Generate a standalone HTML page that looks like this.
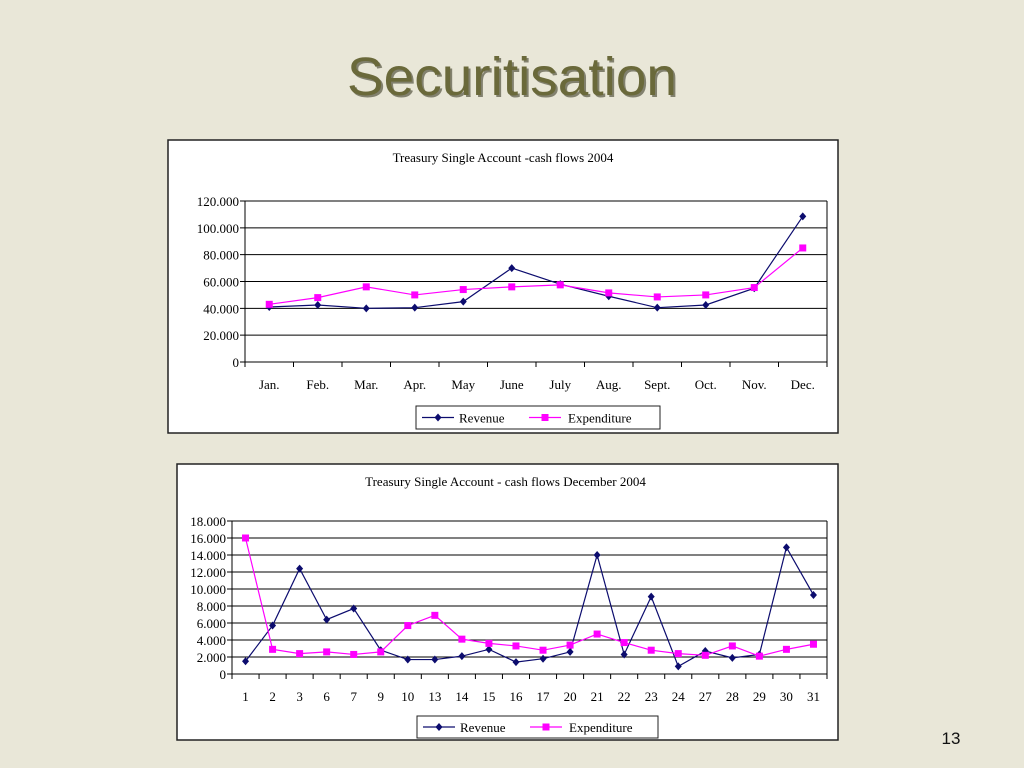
<!DOCTYPE html>
<html><head><meta charset="utf-8"><style>
body{margin:0;width:1024px;height:768px;background:#e8e6d6;font-family:"Liberation Serif",serif;overflow:hidden}
svg{position:absolute;left:0;top:0}
</style></head><body>
<svg id="s" width="1024" height="768" xmlns="http://www.w3.org/2000/svg">
<rect width="1024" height="768" fill="#e9e7d8"/>
<text x="514" y="97" text-anchor="middle" font-family="Liberation Sans,sans-serif" font-size="54" fill="#2f2f18" opacity="0.55" textLength="330" lengthAdjust="spacingAndGlyphs">Securitisation</text>
<text x="512" y="95" text-anchor="middle" font-family="Liberation Sans,sans-serif" font-size="54" fill="#6a693a" textLength="330" lengthAdjust="spacingAndGlyphs">Securitisation</text>
<text x="951" y="744" text-anchor="middle" font-family="Liberation Sans,sans-serif" font-size="17" fill="#111">13</text>
<g id="c1"></g>
<g id="c2"></g>
</svg>
<script>
const months=["Jan.","Feb.","Mar.","Apr.","May","June","July","Aug.","Sept.","Oct.","Nov.","Dec."];
const revenue2004=[41,42.5,40,40.5,45,70,58,49,40.5,42.5,55,108.5];
const expenditure2004=[43,48,56,50,54,56,57.5,51.5,48.5,50,55.5,85];
const ticks1=[0,20,40,60,80,100,120];
const tickLabels1=["0","20.000","40.000","60.000","80.000","100.000","120.000"];
const days=["1","2","3","6","7","9","10","13","14","15","16","17","20","21","22","23","24","27","28","29","30","31"];
const revenueDec=[1500,5700,12400,6400,7700,2800,1700,1700,2100,2900,1400,1800,2600,14000,2300,9100,900,2700,1900,2300,14900,9300];
const expenditureDec=[16000,2900,2400,2600,2300,2600,5700,6900,4100,3600,3300,2800,3400,4700,3700,2800,2400,2200,3300,2100,2900,3500];
const ticks2=[0,2000,4000,6000,8000,10000,12000,14000,16000,18000];
const tickLabels2=["0","2.000","4.000","6.000","8.000","10.000","12.000","14.000","16.000","18.000"];
const NS="http://www.w3.org/2000/svg";
function mk(p,t,a){const e=document.createElementNS(NS,t);for(const k in a)e.setAttribute(k,a[k]);p.appendChild(e);return e;}
function draw(g,o){
  const b=mk(g,'rect',{x:o.bx,y:o.by,width:o.bw,height:o.bh,fill:'#fff',stroke:'#222','stroke-width':1.5});
  
  
  const t=mk(g,'text',{x:o.bx+o.bw/2+o.tdx,y:o.by+22,'text-anchor':'middle','font-size':13});t.textContent=o.title;
  
  
  const X0=o.x0,X1=o.x1,Y0=o.y0,Y1=o.y1,max=o.ticks[o.ticks.length-1];
  const n=o.cats.length,cw=(X1-X0)/n;
  const xs=i=>X0+cw*(i+0.5), ys=v=>Y0-(v/max)*(Y0-Y1);
  o.ticks.forEach((v,i)=>{
    const y=ys(v);
    const l=mk(g,'line',{x1:X0-5,x2:X1,y1:y,y2:y,stroke:'#000','stroke-width':1});
    
    
    const tx=mk(g,'text',{x:X0-6,y:y+5,'text-anchor':'end','font-size':13});tx.textContent=o.tl[i];
    
    
  });
  mk(g,'line',{x1:X0,x2:X0,y1:Y1,y2:Y0,stroke:'#000'});
  mk(g,'line',{x1:X1,x2:X1,y1:Y1,y2:Y0,stroke:'#000'});
  for(let i=0;i<=n;i++)mk(g,'line',{x1:X0+cw*i,x2:X0+cw*i,y1:Y0,y2:Y0+5,stroke:'#000'});
  o.cats.forEach((c,i)=>{const tx=mk(g,'text',{x:xs(i),y:Y0+27,'text-anchor':'middle','font-size':13});tx.textContent=c;
    
    });
  const ser=[[o.s1,'#0c0c6e','d'],[o.s2,'#ff00ff','s']];
  ser.forEach(([d,c,m],k)=>{
    const pl=mk(g,'polyline',{points:d.map((v,i)=>xs(i)+','+ys(v)).join(' '),fill:'none',stroke:c,'stroke-width':1.2});
    
    
    d.forEach((v,i)=>{const x=xs(i),y=ys(v);
      const mkr=m=='d'?mk(g,'polygon',{points:`${x},${y-4} ${x+3.5},${y} ${x},${y+4} ${x-3.5},${y}`,fill:c}):mk(g,'rect',{x:x-3.5,y:y-3.5,width:7,height:7,fill:c});
      
      });
  });
  const L=o.leg;
  const lg=mk(g,'g',{});
  
  
  mk(lg,'rect',{x:L[0],y:L[1],width:L[2],height:L[3],fill:'#fff',stroke:'#222'});
  const cy=L[1]+L[3]/2;
  mk(lg,'line',{x1:L[0]+6,x2:L[0]+38,y1:cy,y2:cy,stroke:'#0c0c6e','stroke-width':1.2});
  mk(lg,'polygon',{points:`${L[0]+22},${cy-4} ${L[0]+25.5},${cy} ${L[0]+22},${cy+4} ${L[0]+18.5},${cy}`,fill:'#0c0c6e'});
  const r=mk(lg,'text',{x:L[0]+43,y:cy+5,'font-size':13});r.textContent='Revenue';
  
  
  mk(lg,'line',{x1:L[0]+113,x2:L[0]+145,y1:cy,y2:cy,stroke:'#ff00ff','stroke-width':1.2});
  mk(lg,'rect',{x:L[0]+125.5,y:cy-3.5,width:7,height:7,fill:'#ff00ff'});
  const e=mk(lg,'text',{x:L[0]+152,y:cy+5,'font-size':13});e.textContent='Expenditure';
  
  
}
draw(document.getElementById('c1'),{bx:168,by:140,bw:670,bh:293,tdx:0,title:'Treasury Single Account -cash flows 2004',
  x0:245,x1:827,y0:362,y1:201,ticks:ticks1,tl:tickLabels1,cats:months,s1:revenue2004,s2:expenditure2004,leg:[416,406,244,23]});
draw(document.getElementById('c2'),{bx:177,by:464,bw:661,bh:276,tdx:-2,title:'Treasury Single Account - cash flows  December 2004',
  x0:232,x1:827,y0:674,y1:521,ticks:ticks2,tl:tickLabels2,cats:days,s1:revenueDec,s2:expenditureDec,leg:[417,716,241,22]});
</script>
</body></html>
